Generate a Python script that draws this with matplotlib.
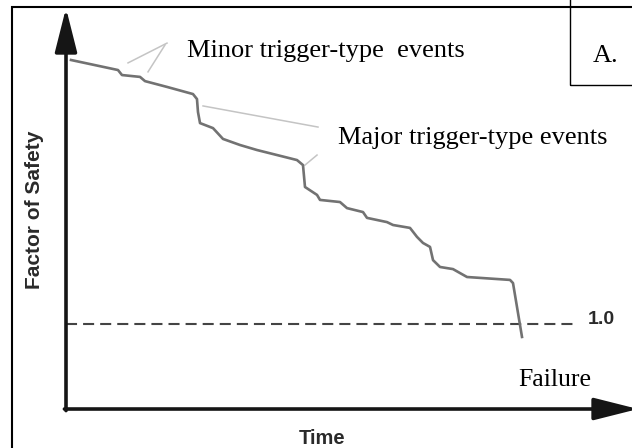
import matplotlib
matplotlib.use("Agg")
import matplotlib.pyplot as plt
from matplotlib.patches import Rectangle

# factor of safety curve (time in arbitrary units)
time = [1.1, 11.45, 12.33, 16.30, 17.40, 22.25, 27.97, 28.85, 29.07, 29.52,
        32.38, 34.58, 38.33, 42.07, 46.48, 50.88, 52.20, 52.64, 55.29, 55.95,
        60.35, 61.89, 65.42, 66.30, 70.70, 72.03, 75.77, 77.31, 78.63, 80.18,
        80.84, 82.38, 85.24, 86.78, 88.33, 97.80, 98.46, 100.44]
fos = [2.000, 1.962, 1.943, 1.936, 1.920, 1.898, 1.871, 1.852, 1.803, 1.761,
       1.742, 1.701, 1.678, 1.659, 1.640, 1.621, 1.602, 1.519, 1.489, 1.470,
       1.462, 1.439, 1.424, 1.402, 1.386, 1.375, 1.364, 1.330, 1.307, 1.292,
       1.242, 1.216, 1.208, 1.193, 1.178, 1.167, 1.155, 0.951]

failure_level = 1.0
fos_bottom = 0.678
fos_top = 2.197
time_end = 126.0
dash_end = 112.6

# leader lines from the labels to the events (time, fos)
minor_leaders = [[(22.25, 2.064), (13.66, 1.989)],
                 [(21.81, 2.057), (18.06, 1.955)]]
major_leaders = [[(30.18, 1.826), (55.51, 1.746)],
                 [(55.29, 1.640), (52.64, 1.602)]]

W, H = 632, 448
fig = plt.figure(figsize=(W / 100, H / 100), dpi=100)
ax = fig.add_axes([0, 0, 1, 1])
# pixel scale: 4.54 px per time unit, 264 px per fos unit, fos=1 at y=324
ax.set_xlim(-66 / 4.54, (W - 66) / 4.54)
ax.set_ylim(1 - (H - 324) / 264, 1 + 324 / 264)
ax.axis("off")

serif = ["Liberation Serif", "DejaVu Serif"]
sans = ["Liberation Sans", "DejaVu Sans"]

# outer frame and the "A." box
fig.patches.append(Rectangle((12 / W, -0.1), 1.0, 1 - 7 / H + 0.1,
                             transform=fig.transFigure, fill=False,
                             lw=1.5, ec="black"))
fig.patches.append(Rectangle((570 / W, 1 - 85 / H), 0.2, 0.3,
                             transform=fig.transFigure, fill=False,
                             lw=1.0, ec="black"))

for seg in minor_leaders + major_leaders:
    xs, ys = zip(*seg)
    ax.plot(xs, ys, color="#c4c4c4", lw=1.1)

ax.plot([0, dash_end], [failure_level, failure_level], color="#444444",
        lw=1.5, ls=(0, (5.3, 2.9)))
ax.plot(time, fos, color="#727272", lw=1.9, solid_joinstyle="round")

arrow = dict(arrowstyle="-|>,head_length=1.35,head_width=0.34",
             mutation_scale=20, lw=2.6, color="#151515",
             shrinkA=0, shrinkB=0)
ax.annotate("", xy=(0, fos_top), xytext=(0, fos_bottom - 0.006),
            arrowprops=arrow, annotation_clip=False)
ax.annotate("", xy=(time_end, fos_bottom), xytext=(-0.35, fos_bottom),
            arrowprops=arrow, annotation_clip=False)

fig.text(187 / W, 1 - 57 / H, "Minor trigger-type  events", family=serif,
         fontsize=19, va="baseline")
fig.text(338 / W, 1 - 144 / H, "Major trigger-type events", family=serif,
         fontsize=19, va="baseline")
fig.text(606 / W, 1 - 62 / H, "A.", family=serif, fontsize=19,
         ha="center", va="baseline")
fig.text(518 / W, 1 - 386 / H, "Failure", family=serif, fontsize=18.5,
         va="baseline")
fig.text(588 / W, 1 - 324 / H, "1.0", family=sans, fontsize=14,
         weight="bold", color="#2a2a2a", va="baseline")
fig.text(322 / W, 1 - 438 / H, "Time", family=sans, fontsize=14.5,
         weight="bold", color="#2a2a2a", ha="center", va="center")
fig.text(35 / W, 1 - 210 / H, "Factor of Safety", family=sans, fontsize=15,
         weight="bold", color="#2a2a2a", ha="center", va="center",
         rotation=90)

fig.savefig("out.png", dpi=100)
